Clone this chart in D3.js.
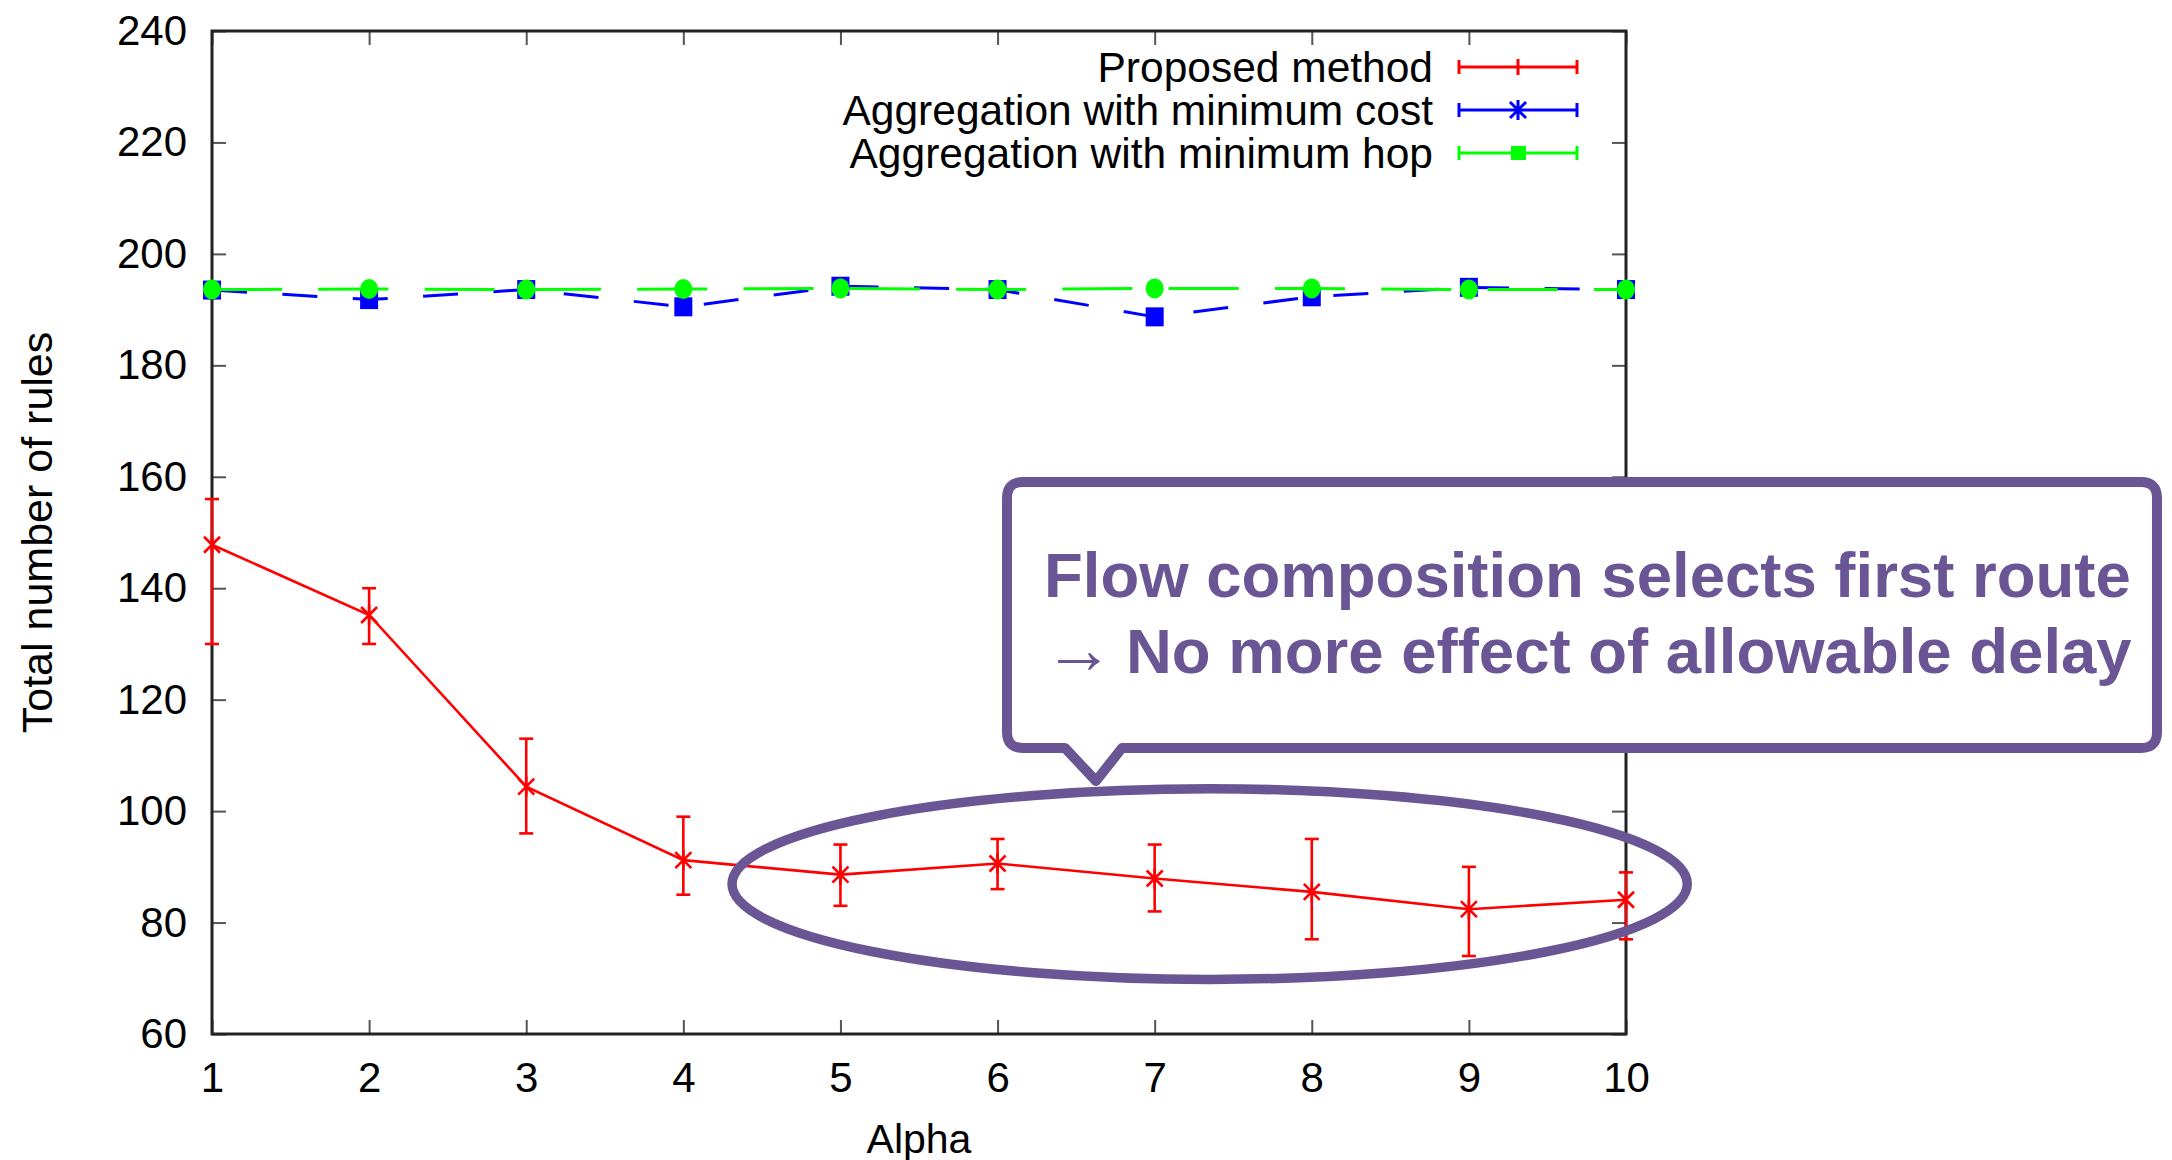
<!DOCTYPE html>
<html>
<head>
<meta charset="utf-8">
<script src="https://cdn.jsdelivr.net/npm/d3@7"></script>
<style>
	html, body { margin: 0; padding: 0; background: #fff; }
	svg { display: block; font-family: "Liberation Sans", Arial, Helvetica, sans-serif; }
</style>
</head>
<body>
<svg width="2172" height="1160"></svg>
<script>
var alphas = [1, 2, 3, 4, 5, 6, 7, 8, 9, 10];

var proposedMean = [147.8, 135.2, 104.4, 91.2, 88.6, 90.6, 87.9, 85.5, 82.4, 84.1];
var proposedLow = [130, 130, 96, 85, 83, 86, 82, 77, 74, 77];
var proposedHigh = [156, 140, 113, 99, 94, 95, 94, 95, 90, 89];

var minCostMean = [193.5, 191.8, 193.6, 190.5, 194.2, 193.6, 188.7, 192.3, 194.0, 193.6];
var minHopMean = [193.6, 193.7, 193.6, 193.7, 193.8, 193.6, 193.8, 193.8, 193.6, 193.6];

var yTicks = [60, 80, 100, 120, 140, 160, 180, 200, 220, 240];
var seriesNames = ["Proposed method", "Aggregation with minimum cost", "Aggregation with minimum hop"];
var calloutLines = ["Flow composition selects first route", "No more effect of allowable delay"];

var svg = d3.select("svg"),
	plotLeft = 212, plotRight = 1626, plotTop = 31, plotBottom = 1034,
	purple = "#6a5595";

var x = d3.scaleLinear()
	.domain([1, 10])
	.range([plotLeft, plotRight]);

var y = d3.scaleLinear()
	.domain([60, 240])
	.range([plotBottom, plotTop]);

function styleAxis(g) {
	g.select(".domain").remove();
	g.selectAll(".tick line").attr("stroke", "#555").attr("stroke-width", 2);
	g.selectAll(".tick text")
		.attr("fill", "#000")
		.style("font-size", "42px")
		.style("font-family", "'Liberation Sans', Arial, sans-serif");
}

// axes with inward ticks, mirrored on top and right
svg.append("g")
	.attr("transform", "translate(" + plotLeft + ",0)")
	.call(d3.axisLeft(y).tickValues(yTicks).tickSize(-14).tickPadding(25))
	.call(styleAxis);

svg.append("g")
	.attr("transform", "translate(" + plotRight + ",0)")
	.call(d3.axisRight(y).tickValues(yTicks).tickSize(-14).tickFormat(""))
	.call(styleAxis);

svg.append("g")
	.attr("transform", "translate(0," + plotBottom + ")")
	.call(d3.axisBottom(x).tickValues(alphas).tickSize(-14).tickPadding(28).tickFormat(d3.format("d")))
	.call(styleAxis);

svg.append("g")
	.attr("transform", "translate(0," + plotTop + ")")
	.call(d3.axisTop(x).tickValues(alphas).tickSize(-14).tickFormat(""))
	.call(styleAxis);

svg.append("rect")
	.attr("x", plotLeft)
	.attr("y", plotTop)
	.attr("width", plotRight - plotLeft)
	.attr("height", plotBottom - plotTop)
	.attr("fill", "none")
	.attr("stroke", "#222")
	.attr("stroke-width", 3);

svg.append("text")
	.attr("x", (plotLeft + plotRight) / 2)
	.attr("y", 1153)
	.attr("text-anchor", "middle")
	.style("font-size", "41px")
	.text("Alpha");

svg.append("text")
	.attr("transform", "translate(52," + ((plotTop + plotBottom) / 2) + ") rotate(-90)")
	.attr("text-anchor", "middle")
	.style("font-size", "43px")
	.text("Total number of rules");

var line = function(values) {
	return d3.line()
		.x(function(d, i) { return x(alphas[i]); })
		.y(function(d) { return y(d); })(values);
};

// blue: minimum cost
svg.append("path")
	.attr("d", line(minCostMean))
	.attr("fill", "none")
	.attr("stroke", "#0000ff")
	.attr("stroke-width", 3)
	.attr("stroke-dasharray", "35,35.5");

svg.selectAll(".costPt")
	.data(minCostMean)
	.enter().append("rect")
	.attr("class", "costPt")
	.attr("x", function(d, i) { return x(alphas[i]) - 9; })
	.attr("y", function(d) { return y(d) - 9.5; })
	.attr("width", 18)
	.attr("height", 19)
	.attr("fill", "#0000ff");

// green: minimum hop
svg.append("path")
	.attr("d", line(minHopMean))
	.attr("fill", "none")
	.attr("stroke", "#00ff00")
	.attr("stroke-width", 3)
	.attr("stroke-dasharray", "70,36.3");

svg.selectAll(".hopPt")
	.data(minHopMean)
	.enter().append("ellipse")
	.attr("class", "hopPt")
	.attr("cx", function(d, i) { return x(alphas[i]); })
	.attr("cy", function(d) { return y(d); })
	.attr("rx", 9)
	.attr("ry", 10)
	.attr("fill", "#00ff00");

// red: proposed method with error bars
var red = svg.append("g").attr("stroke", "#ff0000").attr("stroke-width", 2.6).attr("fill", "none");

red.append("path").attr("d", line(proposedMean));

var bars = red.selectAll(".err")
	.data(proposedMean)
	.enter().append("g")
	.attr("class", "err")
	.attr("transform", function(d, i) { return "translate(" + x(alphas[i]) + ",0)"; });

bars.append("line")
	.attr("y1", function(d, i) { return y(proposedLow[i]); })
	.attr("y2", function(d, i) { return y(proposedHigh[i]); });

bars.append("line")
	.attr("x1", -7).attr("x2", 7)
	.attr("y1", function(d, i) { return y(proposedLow[i]); })
	.attr("y2", function(d, i) { return y(proposedLow[i]); });

bars.append("line")
	.attr("x1", -7).attr("x2", 7)
	.attr("y1", function(d, i) { return y(proposedHigh[i]); })
	.attr("y2", function(d, i) { return y(proposedHigh[i]); });

bars.append("path")
	.attr("d", function(d) {
		var cy = y(d), s = 8;
		return "M" + (-s) + "," + (cy - s) + "L" + s + "," + (cy + s) +
			"M" + (-s) + "," + (cy + s) + "L" + s + "," + (cy - s) +
			"M0," + (cy - s - 2) + "L0," + (cy + s + 2);
	});

// legend
var legend = svg.append("g");
var legendY = [67, 110, 153];
var legendColors = ["#ff0000", "#0000ff", "#00ff00"];

seriesNames.forEach(function(name, i) {
	var g = legend.append("g").attr("transform", "translate(0," + legendY[i] + ")");
	g.append("text")
		.attr("x", 1433)
		.attr("y", 15)
		.attr("text-anchor", "end")
		.style("font-size", "42.5px")
		.text(name);
	var s = g.append("g").attr("stroke", legendColors[i]).attr("stroke-width", 3);
	s.append("line").attr("x1", 1459).attr("x2", 1577);
	s.append("line").attr("x1", 1459).attr("x2", 1459).attr("y1", -7).attr("y2", 7);
	s.append("line").attr("x1", 1577).attr("x2", 1577).attr("y1", -7).attr("y2", 7);
	if(i == 0) {
		s.append("line").attr("x1", 1518).attr("x2", 1518).attr("y1", -8).attr("y2", 8);
	} else if(i == 1) {
		s.append("path").attr("d", "M1510,-8L1526,8M1510,8L1526,-8M1518,-10L1518,10");
	} else {
		g.append("rect").attr("x", 1511).attr("y", -7).attr("width", 15).attr("height", 14).attr("fill", legendColors[i]);
	}
});

// annotation: ellipse round the flat part and callout box
svg.append("ellipse")
	.attr("cx", x(7.35))
	.attr("cy", y(86.9))
	.attr("rx", x(7.35) - x(4.31))
	.attr("ry", y(69.8) - y(86.9))
	.attr("fill", "none")
	.attr("stroke", purple)
	.attr("stroke-width", 9.5);

var bl = 1007, br = 2157, bt = 482, bb = 748, r = 16,
	p1 = 1065, p2 = 1122, tipX = 1096, tipY = 781;

svg.append("path")
	.attr("d", "M" + (bl + r) + "," + bt + "H" + (br - r) + "Q" + br + "," + bt + " " + br + "," + (bt + r) +
		"V" + (bb - r) + "Q" + br + "," + bb + " " + (br - r) + "," + bb +
		"H" + p2 + "L" + tipX + "," + tipY + "L" + p1 + "," + bb +
		"H" + (bl + r) + "Q" + bl + "," + bb + " " + bl + "," + (bb - r) +
		"V" + (bt + r) + "Q" + bl + "," + bt + " " + (bl + r) + "," + bt + "Z")
	.attr("fill", "#fff")
	.attr("stroke", purple)
	.attr("stroke-width", 10)
	.attr("stroke-linejoin", "round");

svg.append("text")
	.attr("x", 1044)
	.attr("y", 597)
	.attr("fill", purple)
	.style("font-size", "63.5px")
	.style("font-weight", "bold")
	.text(calloutLines[0]);

svg.append("text")
	.attr("x", 1044)
	.attr("y", 673)
	.attr("fill", purple)
	.style("font-size", "70px")
	.text("\u2192");

svg.append("text")
	.attr("x", 1126)
	.attr("y", 673)
	.attr("fill", purple)
	.style("font-size", "63.5px")
	.style("font-weight", "bold")
	.text(calloutLines[1]);
</script>
</body>
</html>
